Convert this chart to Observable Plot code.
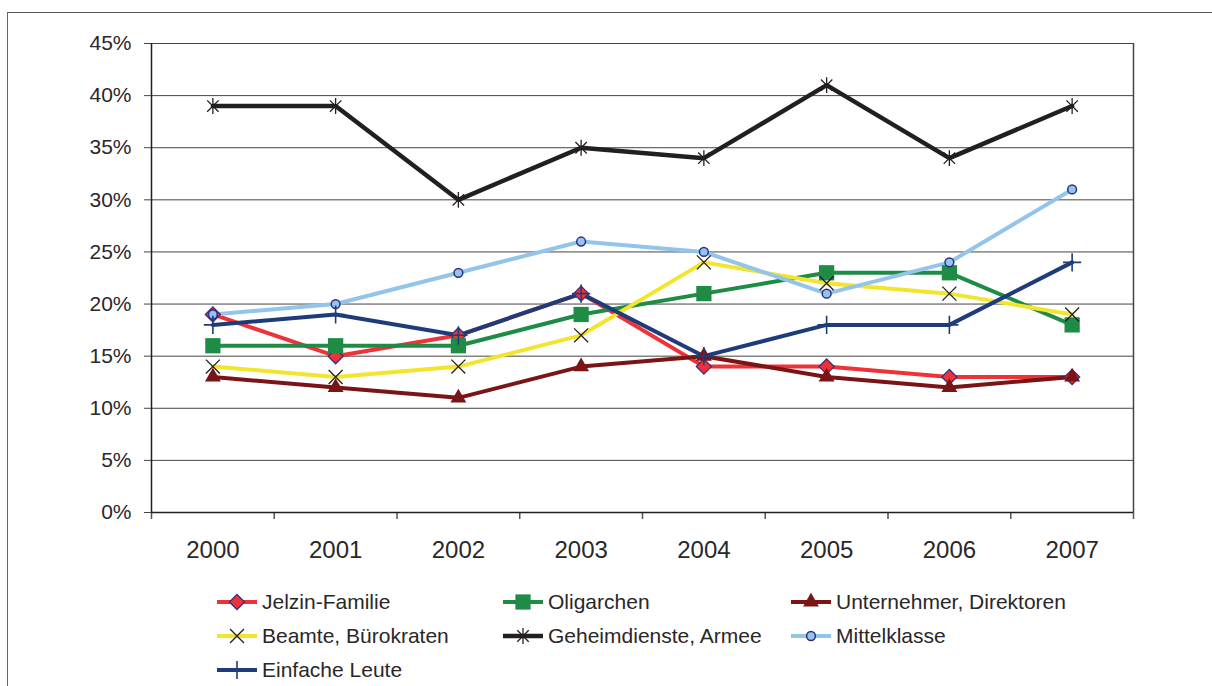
<!DOCTYPE html>
<html><head><meta charset="utf-8">
<script src="https://cdn.jsdelivr.net/npm/d3@7"></script>
<script src="https://cdn.jsdelivr.net/npm/@observablehq/plot@0.6"></script>
<style>
html,body{margin:0;padding:0;background:#fff;}
#wrap{position:relative;width:1212px;height:686px;overflow:hidden;font-family:"Liberation Sans",Arial,sans-serif;color:#231F20;}
#frame{position:absolute;left:7px;top:12px;width:1230px;height:700px;border-left:1.5px solid #666;border-top:1.5px solid #555;box-sizing:border-box;}
#chart{position:absolute;left:0;top:0;}
#legend{position:absolute;left:0;top:0;width:1212px;height:686px;}
.item{position:absolute;display:flex;align-items:center;font-size:21px;height:30px;white-space:nowrap;}
.item svg{margin-right:5px;}
</style></head>
<body><div id="wrap"><div id="frame"></div><div id="chart"></div><div id="legend"></div></div>
<script>
const years = [2000, 2001, 2002, 2003, 2004, 2005, 2006, 2007];
const seriesNames = ["Jelzin-Familie", "Oligarchen", "Unternehmer, Direktoren", "Beamte, Bürokraten", "Geheimdienste, Armee", "Mittelklasse", "Einfache Leute"];
const jelzinFamilie = [19, 15, 17, 21, 14, 14, 13, 13];
const oligarchen = [16, 16, 16, 19, 21, 23, 23, 18];
const unternehmer = [13, 12, 11, 14, 15, 13, 12, 13];
const beamte = [14, 13, 14, 17, 24, 22, 21, 19];
const geheimdienste = [39, 39, 30, 35, 34, 41, 34, 39];
const mittelklasse = [19, 20, 23, 26, 25, 21, 24, 31];
const einfacheLeute = [18, 19, 17, 21, 15, 18, 18, 24];
const yTicks = [0, 5, 10, 15, 20, 25, 30, 35, 40, 45];

// asterisk like the reference: an X plus a vertical stroke
const starSymbol = {
  draw(context, size) {
    const r = Math.sqrt(size) * 0.62;
    const d = r * 0.72;
    context.moveTo(0, -r); context.lineTo(0, r);
    context.moveTo(-d, -d); context.lineTo(d, d);
    context.moveTo(-d, d); context.lineTo(d, -d);
  }
};

const seriesValues = [jelzinFamilie, oligarchen, unternehmer, beamte, geheimdienste, mittelklasse, einfacheLeute];
const lineColors = ["#EE3338", "#1E8C45", "#7A1416", "#F3E52C", "#231F20", "#93C4EA", "#1F3C7A"];
const lineWidths = [4, 4, 4, 4, 4.5, 4, 4];
const markerSymbols = [d3.symbolDiamond2, d3.symbolSquare, d3.symbolTriangle, d3.symbolTimes, starSymbol, d3.symbolCircle, d3.symbolPlus];
const markerR = [6.8, 8.6, 5.9, 6.4, 7.2, 4.4, 5.9];
const markerFill = ["#EE3338", "#1E8C45", "#7A1416", "none", "none", "#93C4EA", "none"];
const markerStroke = ["#3A2E7E", "none", "none", "#231F20", "#231F20", "#2E2E80", "#1F3C7A"];
const markerStrokeW = [1.3, 0, 0, 1.3, 1.3, 1.5, 1.6];

const rows = seriesNames.flatMap((name, i) => years.map((year, j) => ({series: i, name, year, value: seriesValues[i][j]})));
const boundaries = [...years.map(y => y - 0.5), years[years.length - 1] + 0.5];

const marks = [
  Plot.ruleY(yTicks, {stroke: "#444", strokeWidth: 1}),
  Plot.axisY({ticks: yTicks, tickFormat: d => d + "%", tickSize: 7, tickPadding: 13, fontSize: 21, stroke: "#444", color: "#2a2728", label: null}),
  Plot.axisX({ticks: years, tickFormat: d => String(d), tickSize: 0, tickPadding: 28, fontSize: 24, color: "#2a2728", label: null}),
  Plot.axisX({ticks: boundaries, tickFormat: () => "", tickSize: 7, stroke: "#555", strokeWidth: 1.5, label: null}),
  Plot.ruleX([boundaries[0]], {stroke: "#231F20", strokeWidth: 1.5}),
  Plot.ruleY([0], {stroke: "#231F20", strokeWidth: 1.5}),
  Plot.ruleX([boundaries[boundaries.length - 1]], {stroke: "#444", strokeWidth: 1.5}),
];
seriesNames.forEach((name, i) => {
  marks.push(Plot.line(rows.filter(d => d.series === i), {x: "year", y: "value", stroke: lineColors[i], strokeWidth: lineWidths[i], strokeLinejoin: "round"}));
});
seriesNames.forEach((name, i) => {
  marks.push(Plot.dot(rows.filter(d => d.series === i), {x: "year", y: "value", symbol: markerSymbols[i], r: markerR[i], fill: markerFill[i], stroke: markerStroke[i], strokeWidth: markerStrokeW[i]}));
});

const chart = Plot.plot({
  width: 1212, height: 580,
  marginLeft: 151, marginRight: 79, marginTop: 43, marginBottom: 68,
  style: {fontFamily: "'Liberation Sans', Arial, sans-serif", background: "transparent", color: "#231F20"},
  x: {type: "linear", domain: [boundaries[0], boundaries[boundaries.length - 1]], label: null},
  y: {domain: [0, 45], label: null},
  marks
});
document.getElementById("chart").append(chart);

// legend
const legendCols = [217, 503, 791];
const legendTop = 587;
const legendRowH = 34;
const legend = document.getElementById("legend");
seriesNames.forEach((name, i) => {
  const col = i % 3, row = Math.floor(i / 3);
  const div = document.createElement("div");
  div.className = "item";
  div.style.left = legendCols[col] + "px";
  div.style.top = (legendTop + row * legendRowH) + "px";
  const svg = d3.create("svg").attr("width", 40).attr("height", 24);
  svg.append("line").attr("x1", 0).attr("x2", 40).attr("y1", 12).attr("y2", 12).attr("stroke", lineColors[i]).attr("stroke-width", lineWidths[i]);
  const size = Math.PI * markerR[i] * markerR[i];
  svg.append("path").attr("transform", "translate(20,12)").attr("d", d3.symbol(markerSymbols[i], size)())
    .attr("fill", markerFill[i]).attr("stroke", markerStroke[i]).attr("stroke-width", markerStrokeW[i]);
  div.append(svg.node());
  const span = document.createElement("span");
  span.textContent = name;
  span.style.color = "#2a2728";
  div.append(span);
  legend.append(div);
});
</script></body></html>
